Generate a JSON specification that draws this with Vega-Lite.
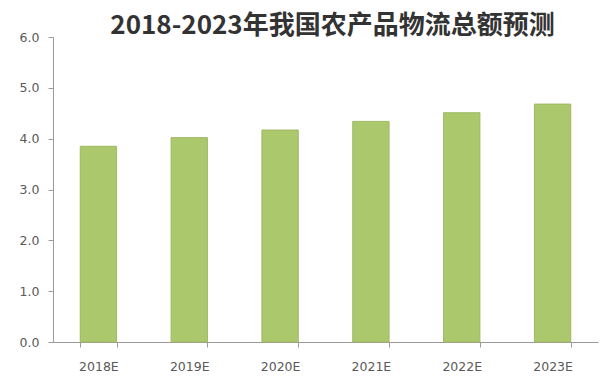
{
  "$schema": "https://vega.github.io/schema/vega-lite/v6.json",
  "width": 545,
  "height": 305,
  "autosize": {"type": "none"},
  "padding": {"left": 53, "top": 37, "right": 14, "bottom": 42},
  "background": "white",
  "title": {
    "text": "2018-2023年我国农产品物流总额预测",
    "font": "Noto Sans CJK SC",
    "fontSize": 26,
    "fontWeight": "bold",
    "color": "#333333",
    "anchor": "middle",
    "dx": 7,
    "offset": -8
  },
  "data": {
    "values": [
      {"year": "2018E", "value": 3.85},
      {"year": "2019E", "value": 4.02},
      {"year": "2020E", "value": 4.17},
      {"year": "2021E", "value": 4.34},
      {"year": "2022E", "value": 4.51},
      {"year": "2023E", "value": 4.68}
    ]
  },
  "config": {
    "view": {"stroke": null},
    "axis": {
      "labelFont": "DejaVu Sans",
      "labelFontSize": 12.5,
      "labelColor": "#595959",
      "domainColor": "#9a9a9a",
      "tickColor": "#9a9a9a",
      "grid": false,
      "title": null
    }
  },
  "mark": {"type": "bar", "color": "#abc86c", "stroke": "#9fb964", "strokeWidth": 1},
  "encoding": {
    "x": {
      "field": "year",
      "type": "nominal",
      "sort": null,
      "scale": {"paddingInner": 0.6, "paddingOuter": 0.3},
      "axis": {"labelAngle": 0, "tickBand": "extent", "tickSize": 5, "labelPadding": 13}
    },
    "y": {
      "field": "value",
      "type": "quantitative",
      "scale": {"domain": [0, 6]},
      "axis": {"values": [0, 1, 2, 3, 4, 5, 6], "format": ".1f", "tickSize": 5, "labelPadding": 9}
    }
  }
}
